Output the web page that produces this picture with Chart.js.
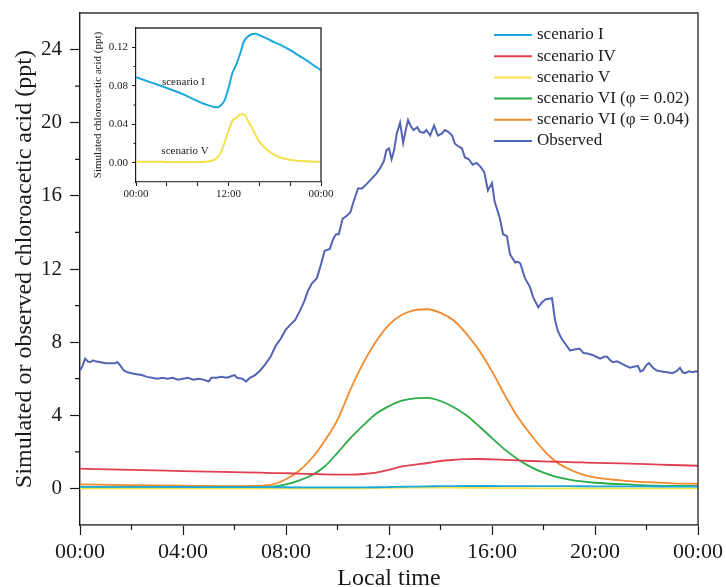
<!DOCTYPE html>
<html>
<head>
<meta charset="utf-8">
<title>Chloroacetic acid</title>
<script src="https://cdn.jsdelivr.net/npm/chart.js@4.4.1/dist/chart.umd.min.js"></script>
<style>
  html, body { margin: 0; padding: 0; background: #fff; }
  #wrap { position: relative; width: 726px; height: 587px; }
  #mainChart { position: absolute; left: 0; top: 0; }
  #insetChart { position: absolute; left: 85px; top: 18px; }
</style>
</head>
<body>
<div id="wrap">
  <canvas id="mainChart" width="726" height="587"></canvas>
  <canvas id="insetChart" width="258" height="190"></canvas>
</div>
<script>
// --- data (hours of the local day, ppt) ---
const obsHours = [0, 0.1, 0.2, 0.3, 0.4, 0.5, 0.6, 0.8, 1.0, 1.2, 1.35, 1.45, 1.55, 1.7, 1.85, 2.0, 2.2, 2.4, 2.6, 2.8,
  3.0, 3.2, 3.4, 3.6, 3.8, 4.0, 4.2, 4.4, 4.6, 4.8, 5.0, 5.1, 5.3, 5.5, 5.7, 5.9, 6.0, 6.1, 6.3, 6.45,
  6.6, 6.8, 7.0, 7.2, 7.4, 7.6, 7.8, 8.0, 8.2, 8.35, 8.5, 8.7, 8.85, 9.0, 9.2, 9.35, 9.5, 9.7, 9.85, 9.95,
  10.05, 10.2, 10.35, 10.5, 10.65, 10.8, 10.95, 11.1, 11.3, 11.5, 11.65, 11.8, 11.9, 12.0, 12.1, 12.2, 12.3, 12.43, 12.55, 12.65,
  12.74, 12.85, 12.95, 13.1, 13.2, 13.35, 13.45, 13.6, 13.75, 13.9, 14.05, 14.17, 14.3, 14.45, 14.56, 14.7, 14.83, 14.95, 15.1, 15.25,
  15.4, 15.55, 15.7, 15.84, 16.0, 16.1, 16.3, 16.43, 16.58, 16.7, 16.9, 17.0, 17.1, 17.28, 17.48, 17.6, 17.8, 17.95, 18.1, 18.33,
  18.45, 18.56, 18.7, 18.85, 19.03, 19.2, 19.4, 19.55, 19.7, 19.9, 20.05, 20.2, 20.35, 20.47, 20.6, 20.7, 20.85, 21.0, 21.2, 21.36,
  21.5, 21.67, 21.76, 21.86, 22.0, 22.1, 22.25, 22.4, 22.6, 22.8, 23.0, 23.15, 23.3, 23.4, 23.5, 23.65, 23.8, 23.9, 24.0];
const obsValues = [6.45, 6.7, 7.1, 6.95, 6.9, 7.0, 6.95, 6.9, 6.85, 6.85, 6.85, 6.9, 6.75, 6.45, 6.35, 6.3, 6.25, 6.2, 6.1, 6.05,
  6.0, 6.05, 6.0, 6.05, 5.95, 6.0, 6.05, 5.95, 6.0, 5.95, 5.85, 6.05, 6.05, 6.1, 6.05, 6.15, 6.2, 6.05, 6.0, 5.85,
  6.05, 6.2, 6.45, 6.8, 7.2, 7.8, 8.2, 8.7, 9.0, 9.2, 9.6, 10.2, 10.8, 11.2, 11.5, 12.2, 13.0, 13.1, 13.7, 13.9,
  13.9, 14.75, 14.9, 15.1, 15.8, 16.4, 16.4, 16.6, 16.9, 17.2, 17.5, 17.9, 18.5, 18.6, 18.0, 18.5, 19.4, 20.0, 18.9, 19.6,
  20.15, 19.8, 19.6, 19.75, 19.5, 19.45, 19.6, 19.3, 19.85, 19.3, 19.4, 19.6, 19.5, 19.3, 18.85, 18.7, 18.6, 18.1, 18.0, 17.7,
  17.8, 17.6, 17.3, 16.3, 16.7, 15.7, 14.8, 13.9, 13.8, 12.8, 12.35, 12.4, 12.3, 11.5, 11.0, 10.45, 9.9, 10.2, 10.35, 10.4,
  9.2, 8.6, 8.2, 7.9, 7.55, 7.6, 7.65, 7.4, 7.38, 7.3, 7.2, 7.1, 7.2, 7.2, 7.0, 6.9, 6.95, 6.85, 6.7, 6.6,
  6.65, 6.7, 6.4, 6.45, 6.75, 6.85, 6.6, 6.45, 6.4, 6.35, 6.3, 6.4, 6.6, 6.35, 6.3, 6.4, 6.35, 6.4, 6.4];

const simHours = [0, 2, 4, 6, 7, 7.5, 8, 8.5, 9, 9.5, 10, 10.5, 11, 11.5, 12, 12.5, 13, 13.5, 14, 14.5,
  15, 15.5, 16, 16.5, 17, 17.5, 18, 18.5, 19, 19.5, 20, 21, 22, 23, 24];
const scenIV = [1.08, 1.01, 0.95, 0.89, 0.86, 0.84, 0.83, 0.81, 0.79, 0.77, 0.76, 0.76, 0.79, 0.87, 1.02, 1.2, 1.3, 1.39, 1.5, 1.56,
  1.6, 1.61, 1.59, 1.56, 1.53, 1.5, 1.48, 1.46, 1.44, 1.42, 1.4, 1.37, 1.33, 1.28, 1.24];
const scenVI02 = [0.09, 0.07, 0.06, 0.05, 0.06, 0.1, 0.22, 0.43, 0.72, 1.2, 1.95, 2.75, 3.45, 4.08, 4.5, 4.8, 4.93, 4.95, 4.78, 4.45,
  4.0, 3.4, 2.75, 2.12, 1.6, 1.18, 0.86, 0.63, 0.48, 0.38, 0.31, 0.23, 0.17, 0.14, 0.13];
const scenVI04 = [0.22, 0.18, 0.15, 0.13, 0.15, 0.22, 0.5, 0.95, 1.65, 2.6, 3.75, 5.4, 6.85, 8.05, 8.95, 9.5, 9.75, 9.8, 9.6, 9.2,
  8.47, 7.55, 6.4, 5.1, 3.9, 2.95, 2.1, 1.45, 1.05, 0.77, 0.6, 0.44, 0.34, 0.28, 0.25];

// scenario I and V are small, shown again in the inset
const lowHours = [0, 2, 4, 6, 8, 9, 10, 10.5, 11, 11.5, 12, 12.5, 13, 13.5, 14, 14.5, 15, 15.5, 16, 17, 18, 19, 20, 21, 22, 23, 24];
const scenI = [0.0888, 0.0833, 0.0777, 0.0715, 0.064, 0.0608, 0.0582, 0.0577, 0.0595, 0.065, 0.0775, 0.093, 0.102, 0.113, 0.126, 0.131,
  0.1335, 0.134, 0.1325, 0.129, 0.125, 0.1215, 0.117, 0.112, 0.107, 0.1015, 0.0961];
const scenV = [0.001, 0.001, 0.0009, 0.0008, 0.0008, 0.001, 0.0025, 0.005, 0.0105, 0.021, 0.033, 0.0435, 0.0465, 0.05, 0.0505, 0.044,
  0.037, 0.029, 0.022, 0.0135, 0.008, 0.0048, 0.003, 0.002, 0.0015, 0.0011, 0.0009];

const xTicks = [0, 4, 8, 12, 16, 20, 24];
const xMinor = [2, 6, 10, 14, 18, 22];
const yTicks = [0, 4, 8, 12, 16, 20, 24];
const yMinor = [2, 6, 10, 14, 18, 22];
const insetXTicks = [0, 4, 8, 12, 16, 20, 24];
const insetYTicks = [0, 0.04, 0.08, 0.12];
const insetYMinor = [0.02, 0.06, 0.10];

const FONT = "'Liberation Serif', 'Times New Roman', serif";
const INK = '#1a1a1a';
const C_I = '#1ba8de', C_IV = '#e0404f', C_V = '#f6e04a', C_02 = '#2bab47', C_04 = '#f28a2e', C_OBS = '#5464b4';

const pts = (xs, ys) => xs.map((x, i) => ({ x: x, y: ys[i] }));
const hhmm = v => String(v % 24).padStart(2, '0') + ':00';
// keep the plot box where the figure has it (no extra room for edge labels)
const noPadX = s => { s.paddingLeft = 0; s.paddingRight = 0; };
const noPadY = s => { s.paddingTop = 0; s.paddingBottom = 0; };

// small ticks between labels + the top/right frame
function frameTicks(xm, ym, len, frameColor) {
  return {
    id: 'frameTicks',
    afterDraw(chart) {
      const { ctx, chartArea: a, scales: { x, y } } = chart;
      ctx.save();
      ctx.strokeStyle = INK;
      ctx.lineWidth = 1.2;
      ctx.beginPath();
      xm.forEach(v => { const px = x.getPixelForValue(v); ctx.moveTo(px, a.bottom); ctx.lineTo(px, a.bottom + len); });
      ym.forEach(v => { const py = y.getPixelForValue(v); ctx.moveTo(a.left, py); ctx.lineTo(a.left - len, py); });
      ctx.stroke();
      ctx.strokeStyle = frameColor;
      ctx.lineWidth = 1.4;
      ctx.beginPath();
      ctx.moveTo(a.left, a.top); ctx.lineTo(a.right, a.top); ctx.lineTo(a.right, a.bottom);
      ctx.stroke();
      ctx.restore();
    }
  };
}

const legendBox = {
  id: 'legendBox',
  afterDraw(chart) {
    const ctx = chart.ctx;
    ctx.save();
    ctx.font = '17px ' + FONT;
    ctx.textBaseline = 'middle';
    ctx.fillStyle = INK;
    chart.data.datasets.forEach((ds, row) => {
      const y = 35 + row * 21.2;
      ctx.strokeStyle = ds.borderColor;
      ctx.lineWidth = 2;
      ctx.beginPath(); ctx.moveTo(494, y); ctx.lineTo(532, y); ctx.stroke();
      ctx.fillText(ds.label, 537, y);
    });
    ctx.restore();
  }
};

const simLine = (label, color, data, w) => ({
  label: label, data: data, borderColor: color, backgroundColor: color,
  borderWidth: w, pointRadius: 0, cubicInterpolationMode: 'monotone', fill: false
});

// 1. main chart
new Chart(document.getElementById('mainChart'), {
  type: 'line',
  data: {
    datasets: [
      simLine('scenario I', C_I, pts(lowHours, scenI), 1.8),
      simLine('scenario IV', C_IV, pts(simHours, scenIV), 1.8),
      simLine('scenario V', C_V, pts(lowHours, scenV), 1.8),
      simLine('scenario VI (\u03c6 = 0.02)', C_02, pts(simHours, scenVI02), 1.8),
      simLine('scenario VI (\u03c6 = 0.04)', C_04, pts(simHours, scenVI04), 1.8),
      { label: 'Observed', data: pts(obsHours, obsValues), borderColor: C_OBS, borderWidth: 2, pointRadius: 0, tension: 0 }
    ]
  },
  options: {
    responsive: false, animation: false, devicePixelRatio: 1,
    layout: { padding: { top: 13, right: 28, left: 0, bottom: 0 } },
    plugins: { legend: { display: false }, tooltip: { enabled: false } },
    scales: {
      x: {
        type: 'linear', min: 0, max: 24,
        afterBuildTicks: s => { s.ticks = xTicks.map(v => ({ value: v })); },
        afterFit: s => { s.height = 62; noPadX(s); },
        grid: { drawOnChartArea: false, tickLength: 10, tickColor: INK, tickWidth: 1.2 },
        border: { color: '#555', width: 1.8 },
        ticks: { callback: v => hhmm(v), font: { family: FONT, size: 22 }, color: INK, padding: 4, maxRotation: 0, autoSkip: false },
        title: { display: true, text: 'Local time', font: { family: FONT, size: 24, lineHeight: 0.7 }, color: INK, padding: 0 }
      },
      y: {
        min: -2, max: 26,
        afterBuildTicks: s => { s.ticks = yTicks.map(v => ({ value: v })); },
        afterFit: s => { s.width = 80; noPadY(s); },
        grid: { drawOnChartArea: false, tickLength: 10, tickColor: INK, tickWidth: 1.2 },
        border: { color: INK, width: 1.4 },
        ticks: { font: { family: FONT, size: 21 }, color: INK, padding: 8 },
        title: { display: true, text: 'Simulated or observed chloroacetic acid (ppt)', font: { family: FONT, size: 24 }, color: INK, padding: { top: 10, bottom: 0 } }
      }
    }
  },
  plugins: [frameTicks(xMinor, yMinor, 5, '#333'), legendBox]
});

// 2. inset: scenario I and V only
const insetNotes = {
  id: 'insetNotes',
  afterDraw(chart) {
    const { ctx, scales: { x, y } } = chart;
    ctx.save();
    ctx.font = '11px ' + FONT;
    ctx.fillStyle = INK;
    ctx.textAlign = 'center';
    ctx.textBaseline = 'middle';
    ctx.fillText('scenario I', x.getPixelForValue(6.16), y.getPixelForValue(0.0843));
    ctx.fillText('scenario V', x.getPixelForValue(6.36), y.getPixelForValue(0.0122));
    ctx.restore();
  }
};

new Chart(document.getElementById('insetChart'), {
  type: 'line',
  data: {
    datasets: [
      simLine('scenario I', C_I, pts(lowHours, scenI), 2),
      simLine('scenario V', C_V, pts(lowHours, scenV), 2)
    ]
  },
  options: {
    responsive: false, animation: false, devicePixelRatio: 1,
    layout: { padding: { top: 10, right: 22, left: 0, bottom: 0 } },
    plugins: { legend: { display: false }, tooltip: { enabled: false } },
    scales: {
      x: {
        type: 'linear', min: 0, max: 24,
        afterBuildTicks: s => { s.ticks = insetXTicks.map(v => ({ value: v })); },
        afterFit: s => { s.height = 26; noPadX(s); },
        grid: { drawOnChartArea: false, tickLength: 4, tickColor: INK, tickWidth: 1 },
        border: { color: '#444', width: 1.3 },
        ticks: { callback: v => (v % 12 === 0 ? hhmm(v) : ''), font: { family: FONT, size: 11 }, color: INK, padding: 2, maxRotation: 0, autoSkip: false }
      },
      y: {
        min: -0.02, max: 0.14,
        afterBuildTicks: s => { s.ticks = insetYTicks.map(v => ({ value: v })); },
        afterFit: s => { s.width = 51; noPadY(s); },
        grid: { drawOnChartArea: false, tickLength: 4, tickColor: INK, tickWidth: 1 },
        border: { color: INK, width: 1.2 },
        ticks: { callback: v => v.toFixed(2), font: { family: FONT, size: 11 }, color: INK, padding: 4 },
        title: { display: true, text: 'Simulated chloroacetic acid (ppt)', font: { family: FONT, size: 11 }, color: INK, padding: { top: 7, bottom: 0 } }
      }
    }
  },
  plugins: [frameTicks([], insetYMinor, 2.5, '#333'), insetNotes]
});
</script>
</body>
</html>
